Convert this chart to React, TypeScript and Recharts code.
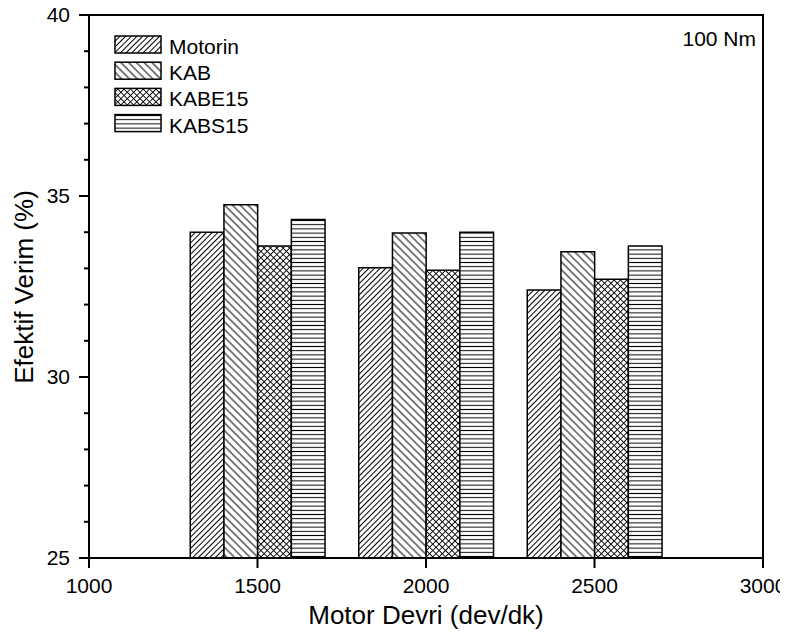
// Efektif verim vs motor devri, 100 Nm — hatched grouped bars (Origin style).
import React from "react";
import { BarChart, Bar, XAxis, YAxis, ReferenceArea, Label } from "recharts";

const FONT = "'Liberation Sans', Arial, sans-serif";

const SPEEDS = [1500, 2000, 2500];
const MOTORIN = [34.0, 33.02, 32.4];
const KAB = [34.76, 33.98, 33.46];
const KABE15 = [33.62, 32.95, 32.7];
const KABS15 = [34.35, 34.0, 33.62];

const X_TICKS = [1000, 1500, 2000, 2500, 3000];
const Y_TICKS = [25, 26, 27, 28, 29, 30, 31, 32, 33, 34, 35, 36, 37, 38, 39, 40];

const SERIES = [
  { key: "Motorin", values: MOTORIN, pattern: "pMotorin" },
  { key: "KAB", values: KAB, pattern: "pKAB" },
  { key: "KABE15", values: KABE15, pattern: "pKABE15" },
  { key: "KABS15", values: KABS15, pattern: "pKABS15" },
];

const data = SPEEDS.map((speed, i) => {
  const row: Record<string, number> = { speed };
  SERIES.forEach((s) => (row[s.key] = s.values[i]));
  return row;
});

// the chart is pulled over the body margin so it sits at the page origin
const W = 788;
const H = 637;
const MARGIN = { top: 15, right: 25, left: 0, bottom: 0 };
const Y_AXIS_W = 89;
const X_AXIS_H = 79;
// one bar spans 100 rpm on the x scale
const BAR_SIZE = ((W - MARGIN.left - MARGIN.right - Y_AXIS_W) / 2000) * 100;

function Patterns() {
  return (
    <svg width={0} height={0} style={{ position: "absolute" }}>
      <defs>
        <pattern id="pMotorin" patternUnits="userSpaceOnUse" width={4} height={4} patternTransform="rotate(45)">
          <rect width={4} height={4} fill="#fff" />
          <line x1={2} y1={0} x2={2} y2={4} stroke="#000" strokeWidth={1} shapeRendering="crispEdges" />
        </pattern>
        <pattern id="pKAB" patternUnits="userSpaceOnUse" width={5.5} height={5.5} patternTransform="rotate(-45)">
          <rect width={5.5} height={5.5} fill="#fff" />
          <line x1={2.75} y1={0} x2={2.75} y2={5.5} stroke="#000" strokeWidth={1} />
        </pattern>
        <pattern id="pKABE15" patternUnits="userSpaceOnUse" width={4.5} height={4.5} patternTransform="rotate(45)">
          <rect width={4.5} height={4.5} fill="#fff" />
          <line x1={2.25} y1={0} x2={2.25} y2={4.5} stroke="#000" strokeWidth={0.9} />
          <line x1={0} y1={2.25} x2={4.5} y2={2.25} stroke="#000" strokeWidth={0.9} />
        </pattern>
        <pattern id="pKABS15" patternUnits="userSpaceOnUse" width={8} height={4.2}>
          <rect width={8} height={4.2} fill="#fff" />
          <line x1={0} y1={2.1} x2={8} y2={2.1} stroke="#000" strokeWidth={1} />
        </pattern>
      </defs>
    </svg>
  );
}

const renderYTick = (props: any) => {
  const { x, y, payload } = props;
  const v = payload.value as number;
  const major = v % 5 === 0;
  return (
    <g>
      <line x1={x - (major ? 10 : 5)} x2={x} y1={y} y2={y} stroke="#000" strokeWidth={2} />
      {major && (
        <text x={x - 19} y={y} dy="0.35em" textAnchor="end" fontSize={21} fontFamily={FONT} fill="#000">
          {v}
        </text>
      )}
    </g>
  );
};

export default function App() {
  return (
    <div style={{ position: "relative", width: W, height: H, margin: -8, fontFamily: FONT }}>
      <Patterns />
      <BarChart width={W} height={H} data={data} margin={MARGIN} barGap={0} barSize={BAR_SIZE}>
        <XAxis
          dataKey="speed"
          type="number"
          domain={[1000, 3000]}
          ticks={X_TICKS}
          allowDataOverflow
          height={X_AXIS_H}
          tickSize={10}
          tickMargin={10}
          interval={0}
          axisLine={{ stroke: "#000", strokeWidth: 2 }}
          tickLine={{ stroke: "#000", strokeWidth: 2 }}
          tick={{ fill: "#000", fontSize: 21, fontFamily: FONT }}
        >
          <Label
            content={() => (
              <text x={426} y={624} textAnchor="middle" fontSize={26} fontFamily={FONT} fill="#000">
                Motor Devri (dev/dk)
              </text>
            )}
          />
        </XAxis>
        <YAxis
          type="number"
          domain={[25, 40]}
          ticks={Y_TICKS}
          allowDataOverflow
          width={Y_AXIS_W}
          tickSize={0}
          tickMargin={0}
          interval={0}
          axisLine={{ stroke: "#000", strokeWidth: 2 }}
          tickLine={false}
          tick={renderYTick}
        >
          <Label
            content={() => (
              <text
                x={33}
                y={287}
                textAnchor="middle"
                transform="rotate(-90, 33, 287)"
                fontSize={26}
                fontFamily={FONT}
                fill="#000"
              >
                Efektif Verim (%)
              </text>
            )}
          />
        </YAxis>
        <ReferenceArea
          x1={1000}
          x2={3000}
          y1={25}
          y2={40}
          fill="none"
          stroke="#000"
          strokeWidth={2}
          ifOverflow="visible"
        />
        {SERIES.map((s) => (
          <Bar
            key={s.key}
            dataKey={s.key}
            fill={`url(#${s.pattern})`}
            stroke="#000"
            strokeWidth={1.5}
            isAnimationActive={false}
          />
        ))}
      </BarChart>
      <svg width={W} height={H} style={{ position: "absolute", left: 0, top: 0, pointerEvents: "none" }}>
        {SERIES.map((s, i) => (
          <g key={s.key}>
            <rect
              x={115}
              y={36 + i * 26.2}
              width={46}
              height={17}
              fill={`url(#${s.pattern})`}
              stroke="#000"
              strokeWidth={1.5}
            />
            <text x={169} y={54 + i * 26.2} fontSize={21} fontFamily={FONT} fill="#000">
              {s.key}
            </text>
          </g>
        ))}
        <text x={756} y={46} textAnchor="end" fontSize={21} fontFamily={FONT} fill="#000">
          100 Nm
        </text>
      </svg>
    </div>
  );
}
